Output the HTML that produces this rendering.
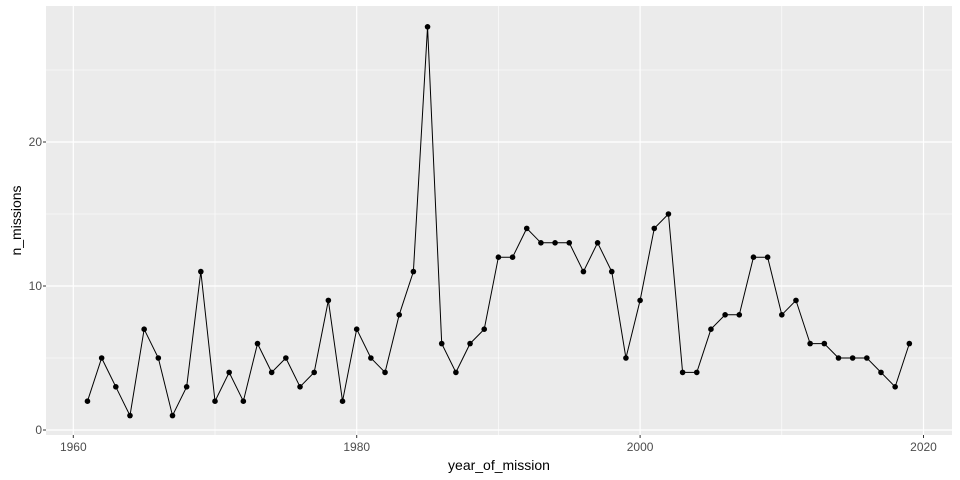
<!DOCTYPE html>
<html><head><meta charset="utf-8"><style>
body{margin:0;background:#fff}
svg{display:block;font-family:"Liberation Sans",sans-serif}
</style></head><body>
<svg id="chart" width="960" height="480"></svg>
<script>
const years=[1961,1962,1963,1964,1965,1966,1967,1968,1969,1970,1971,1972,1973,1974,1975,1976,1977,1978,1979,1980,1981,1982,1983,1984,1985,1986,1987,1988,1989,1990,1991,1992,1993,1994,1995,1996,1997,1998,1999,2000,2001,2002,2003,2004,2005,2006,2007,2008,2009,2010,2011,2012,2013,2014,2015,2016,2017,2018,2019];
const missions=[2,5,3,1,7,5,1,3,11,2,4,2,6,4,5,3,4,9,2,7,5,4,8,11,28,6,4,6,7,12,12,14,13,13,13,11,13,11,5,9,14,15,4,4,7,8,8,12,12,8,9,6,6,5,5,5,4,3,6];
const xTicks=[1960,1980,2000,2020];
const xMinor=[1970,1990,2010];
const yTicks=[0,10,20];
const yMinor=[5,15,25];
const NS='http://www.w3.org/2000/svg';
const svg=document.getElementById('chart');
const P={l:46,r:952,t:6,b:435};
const x=v=>73.3+(v-1960)*14.17;
const y=v=>430-v*14.4;
function mk(t,a,parent){const e=document.createElementNS(NS,t);for(const k in a)e.setAttribute(k,a[k]);(parent||svg).appendChild(e);return e;}
const bg=mk('rect',{x:P.l,y:P.t,width:P.r-P.l,height:P.b-P.t,fill:'#ebebeb'});


const grid=mk('g',{});


xMinor.forEach(v=>mk('line',{x1:x(v),x2:x(v),y1:P.t,y2:P.b,stroke:'#fff','stroke-width':0.6},grid));
yMinor.forEach(v=>mk('line',{x1:P.l,x2:P.r,y1:y(v),y2:y(v),stroke:'#fff','stroke-width':0.6},grid));
xTicks.forEach(v=>mk('line',{x1:x(v),x2:x(v),y1:P.t,y2:P.b,stroke:'#fff','stroke-width':1.2},grid));
yTicks.forEach(v=>mk('line',{x1:P.l,x2:P.r,y1:y(v),y2:y(v),stroke:'#fff','stroke-width':1.2},grid));
const xa=mk('g',{});


xTicks.forEach(v=>{mk('line',{x1:x(v),x2:x(v),y1:P.b,y2:P.b+3,stroke:'#333','stroke-width':1},xa);
const t=mk('text',{x:x(v),y:P.b+16,'text-anchor':'middle','font-size':12,fill:'#4d4d4d'},xa);t.textContent=v;});
const ya=mk('g',{});


yTicks.forEach(v=>{mk('line',{x1:P.l-3,x2:P.l,y1:y(v),y2:y(v),stroke:'#333','stroke-width':1},ya);
const t=mk('text',{x:P.l-4,y:y(v)+4,'text-anchor':'end','font-size':12,fill:'#4d4d4d'},ya);t.textContent=v;});
const xt=mk('text',{x:(P.l+P.r)/2,y:470,'text-anchor':'middle','font-size':14,fill:'#000'});
xt.textContent='year_of_mission';


const yt=mk('text',{x:0,y:0,transform:`translate(21,${(P.t+P.b)/2}) rotate(-90)`,'text-anchor':'middle','font-size':14,fill:'#000'});
yt.textContent='n_missions';


const line=mk('polyline',{points:years.map((yr,i)=>x(yr)+','+y(missions[i])).join(' '),fill:'none',stroke:'#000','stroke-width':1});


years.forEach((yr,i)=>{const c=mk('circle',{cx:x(yr),cy:y(missions[i]),r:2.8,fill:'#000'});

});
</script>
</body></html>
